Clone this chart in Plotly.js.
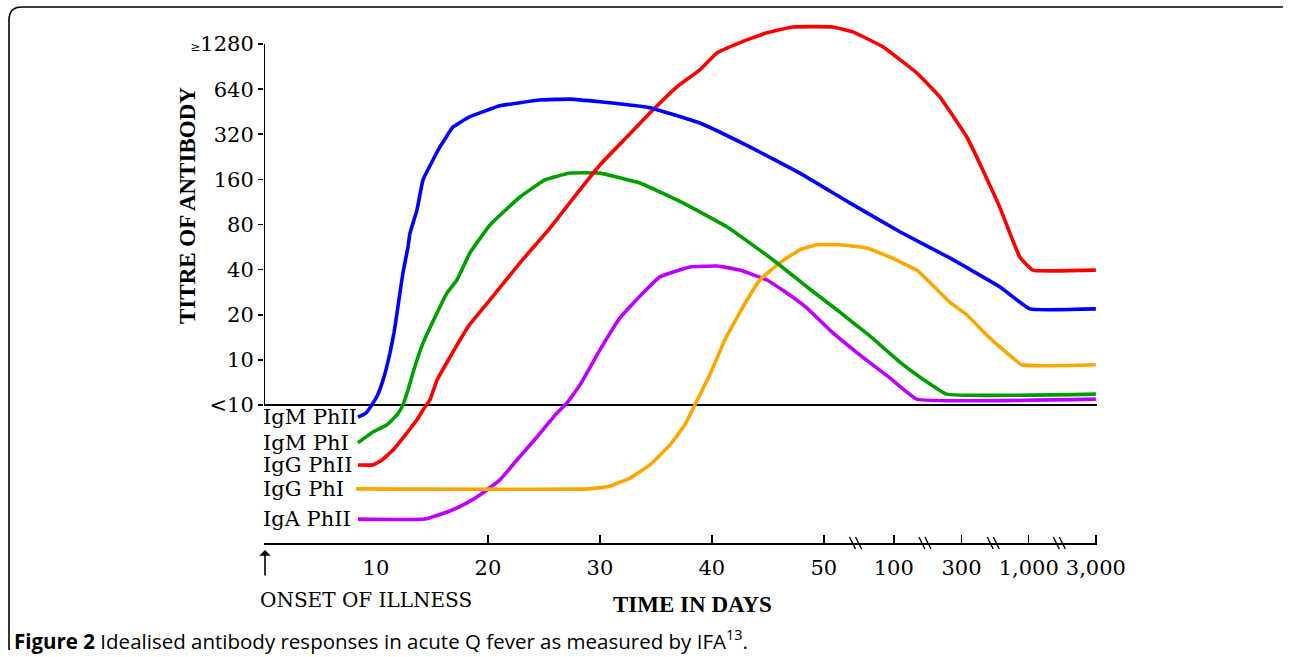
<!DOCTYPE html>
<html>
<head>
<meta charset="utf-8">
<script src="https://cdn.plot.ly/plotly-3.0.1.min.js"></script>
<style>html,body{margin:0;padding:0;background:#fff;}#chart{width:1290px;height:657px;}</style>
</head>
<body>
<div id="chart"></div>
<script>
// x: position along the (broken) time axis, in day units (10..50 linear; later ticks at 100, 300, 1000, 3000)
// y: titre level: 0 = "<10", 1 = 10, 2 = 20, ... 8 = ">=1280"; negative = baseline offsets below the <10 line
const seriesNames = ['IgM PhII', 'IgM PhI', 'IgG PhII', 'IgG PhI', 'IgA PhII'];
const seriesColors = ['#0000ff', '#00a000', '#ff0000', '#ffa500', '#c000ff'];

const igmPh2X = [8.39, 9.1, 9.73, 10.18, 10.63, 10.98, 11.25, 11.61, 11.88, 12.14, 12.41, 12.86, 13.04, 13.66, 14.2, 15.09, 15.71, 16.88, 18.39, 21.07, 24.64, 27.32, 30.0, 34.46, 38.93, 43.39, 47.86, 52.32, 56.79, 61.25, 65.71, 68.39, 74.3];
const igmPh2Y = [-0.27, -0.18, 0.04, 0.24, 0.55, 0.86, 1.15, 1.60, 2.04, 2.48, 2.93, 3.50, 3.81, 4.32, 4.99, 5.43, 5.72, 6.16, 6.39, 6.63, 6.76, 6.78, 6.72, 6.59, 6.25, 5.72, 5.14, 4.48, 3.84, 3.26, 2.62, 2.13, 2.13];

const igmPh1X = [8.39, 9.73, 10.98, 11.88, 12.41, 12.86, 13.3, 14.2, 15.45, 16.34, 17.23, 18.39, 20.18, 22.86, 25.09, 27.32, 30.0, 33.57, 37.41, 41.34, 45.45, 48.48, 51.16, 54.11, 56.79, 58.57, 60.98, 74.3];
const igmPh1Y = [-0.84, -0.60, -0.44, -0.22, 0.0, 0.33, 0.71, 1.37, 2.04, 2.48, 2.77, 3.37, 3.99, 4.61, 4.99, 5.14, 5.14, 4.92, 4.48, 3.95, 3.22, 2.62, 2.11, 1.53, 0.95, 0.62, 0.24, 0.24];

const iggPh2X = [8.39, 9.73, 10.54, 11.52, 12.77, 13.66, 14.2, 14.82, 15.45, 16.61, 17.5, 18.21, 20.18, 22.86, 25.54, 27.77, 30.0, 32.41, 34.46, 36.88, 38.93, 40.45, 42.5, 44.91, 47.23, 50.8, 52.59, 55.27, 58.3, 60.36, 62.77, 64.2, 65.71, 67.5, 68.66, 74.3];
const iggPh2Y = [-1.33, -1.33, -1.22, -1.0, -0.62, -0.33, -0.11, 0.11, 0.55, 1.06, 1.44, 1.73, 2.33, 3.15, 3.92, 4.63, 5.32, 5.94, 6.47, 7.05, 7.43, 7.80, 8.03, 8.25, 8.38, 8.38, 8.27, 7.94, 7.36, 6.83, 5.94, 5.21, 4.39, 3.28, 2.99, 2.99];

const iggPh1X = [8.21, 29.11, 30.89, 32.68, 34.46, 36.25, 37.59, 38.48, 39.82, 41.16, 42.77, 44.29, 46.07, 47.86, 49.38, 51.43, 53.84, 55.89, 58.3, 61.25, 62.77, 64.55, 65.71, 67.68, 74.3];
const iggPh1Y = [-1.86, -1.86, -1.80, -1.62, -1.33, -0.89, -0.44, 0.0, 0.67, 1.44, 2.17, 2.77, 3.15, 3.44, 3.55, 3.55, 3.48, 3.28, 2.99, 2.28, 2.0, 1.55, 1.29, 0.89, 0.89];

const igaPh2X = [8.39, 14.38, 16.61, 18.13, 19.55, 21.07, 22.59, 24.38, 26.16, 27.05, 28.21, 30.0, 31.79, 33.84, 35.36, 38.04, 40.45, 42.5, 44.91, 46.7, 48.48, 50.54, 53.21, 55.89, 58.3, 74.3];
const igaPh2Y = [-2.53, -2.53, -2.35, -2.17, -1.95, -1.66, -1.22, -0.71, -0.18, 0.04, 0.44, 1.22, 1.93, 2.48, 2.84, 3.06, 3.08, 2.99, 2.77, 2.48, 2.15, 1.66, 1.11, 0.60, 0.13, 0.13];

const xTickPos = [10, 20, 30, 40, 50, 56.25, 62.3, 68.3, 74.3];
const xTickText = ['10', '20', '30', '40', '50', '100', '300', '1,000', '3,000'];
const xTickMarkPos = [20, 30, 40, 50, 56.25, 62.3, 68.3, 74.3];
const xBreakPos = [53.1, 59.3, 65.4, 71.3];
const yTickPos = [0, 1, 2, 3, 4, 5, 6, 7, 8];
const yTickText = ['&lt;10', '10', '20', '40', '80', '160', '320', '640', '<span style="font-size:12px">≥</span>1280'];

const W = 1290, H = 657;
const M = {l: 264, r: 193, t: 17, b: 114};
const xRange = [0, 74.4];
const yRange = [-3.06, 8.6];
const pw = W - M.l - M.r, ph = H - M.t - M.b;
const px2paper = p => (p - M.l) / pw;
const py2paper = p => (H - M.b - p) / ph;
const x2px = v => M.l + (v - xRange[0]) / (xRange[1] - xRange[0]) * pw;

const serif = 'DejaVu Serif, serif';
const xs = [igmPh2X, igmPh1X, iggPh2X, iggPh1X, igaPh2X];
const ys = [igmPh2Y, igmPh1Y, iggPh2Y, iggPh1Y, igaPh2Y];
const drawOrder = [4, 3, 1, 2, 0];

const traces = drawOrder.map(i => ({
  type: 'scatter', mode: 'lines', name: seriesNames[i],
  x: xs[i], y: ys[i],
  line: {color: seriesColors[i], width: 3.6, shape: 'spline', smoothing: 0.3},
  hoverinfo: 'skip'
}));
traces.push({type: 'scatter', mode: 'lines', x: [], y: [], xaxis: 'x2', yaxis: 'y', showlegend: false, hoverinfo: 'skip'});

const annotations = [];
seriesNames.forEach((n, i) => {
  annotations.push({xref: 'paper', yref: 'y', x: px2paper(261), y: ys[i][0], xanchor: 'left', yanchor: 'middle',
    text: n, showarrow: false, font: {family: serif, size: 21, color: '#000'}});
});
annotations.push({xref: 'paper', yref: 'paper', x: px2paper(258), y: py2paper(600), xanchor: 'left', yanchor: 'middle',
  text: 'ONSET OF ILLNESS', showarrow: false, font: {family: serif, size: 20, color: '#000'}});
annotations.push({xref: 'paper', yref: 'paper', x: px2paper(265), y: py2paper(550), ax: 0, ay: 27,
  text: '', showarrow: true, arrowhead: 1, arrowsize: 1.2, arrowwidth: 1.6, arrowcolor: '#000'});
annotations.push({xref: 'paper', yref: 'paper', x: px2paper(692), y: py2paper(604), xanchor: 'center', yanchor: 'middle',
  text: '<b>TIME IN DAYS</b>', showarrow: false, font: {family: 'Liberation Serif, serif', size: 23, color: '#000'}});
annotations.push({xref: 'paper', yref: 'paper', x: px2paper(187), y: py2paper(206), xanchor: 'center', yanchor: 'middle',
  textangle: -90, text: '<b>TITRE OF ANTIBODY</b>', showarrow: false, font: {family: 'Liberation Serif, serif', size: 23, color: '#000'}});
annotations.push({xref: 'paper', yref: 'paper', x: px2paper(12), y: py2paper(640), xanchor: 'left', yanchor: 'middle',
  text: '<b>Figure 2</b> Idealised antibody responses in acute Q fever as measured by IFA<sup>13</sup>.', showarrow: false,
  font: {family: 'Open Sans, sans-serif', size: 20.5, color: '#000'}});

const shapes = [
  {type: 'line', xref: 'x', yref: 'y', x0: 0, x1: 0, y0: 0, y1: 8, line: {color: '#000', width: 2}},
  {type: 'path', xref: 'paper', yref: 'paper',
   path: `M ${px2paper(9)},${py2paper(650)} L ${px2paper(9)},${py2paper(20)} Q ${px2paper(9)},${py2paper(7)} ${px2paper(22)},${py2paper(7)} L ${px2paper(1283)},${py2paper(7)}`,
   line: {color: '#000', width: 1.6}}
];
xBreakPos.forEach(b => {
  const bx = x2px(b);
  [-6, 0].forEach(off => {
    shapes.push({type: 'line', xref: 'paper', yref: 'paper',
      x0: px2paper(bx + off - 3), y0: py2paper(537), x1: px2paper(bx + off + 3), y1: py2paper(549),
      line: {color: '#000', width: 1.4}});
  });
});

const layout = {
  width: W, height: H, margin: M, showlegend: false,
  paper_bgcolor: '#fff', plot_bgcolor: 'rgba(0,0,0,0)',
  xaxis: {range: xRange, showgrid: false, zeroline: false, showline: true, linecolor: '#000', linewidth: 1.6,
    tickmode: 'array', tickvals: xTickPos, ticktext: xTickText, ticks: '', ticklabelstandoff: 5,
    tickfont: {family: serif, size: 21, color: '#000'}, fixedrange: true},
  xaxis2: {range: xRange, overlaying: 'x', anchor: 'y', side: 'bottom', showgrid: false, zeroline: false, showline: false,
    tickmode: 'array', tickvals: xTickMarkPos, ticks: 'inside', ticklen: 8, tickwidth: 1.6, tickcolor: '#000',
    showticklabels: false, fixedrange: true},
  yaxis: {range: yRange, showgrid: false, showline: false, zeroline: true, zerolinecolor: '#000', zerolinewidth: 1.6,
    tickmode: 'array', tickvals: yTickPos, ticktext: yTickText, ticks: 'outside', ticklen: 5, tickwidth: 1.6, tickcolor: '#000',
    tickfont: {family: serif, size: 21, color: '#000'}, fixedrange: true},
  annotations: annotations, shapes: shapes
};

Plotly.newPlot('chart', traces, layout, {displayModeBar: false, staticPlot: true});
</script>
</body>
</html>
